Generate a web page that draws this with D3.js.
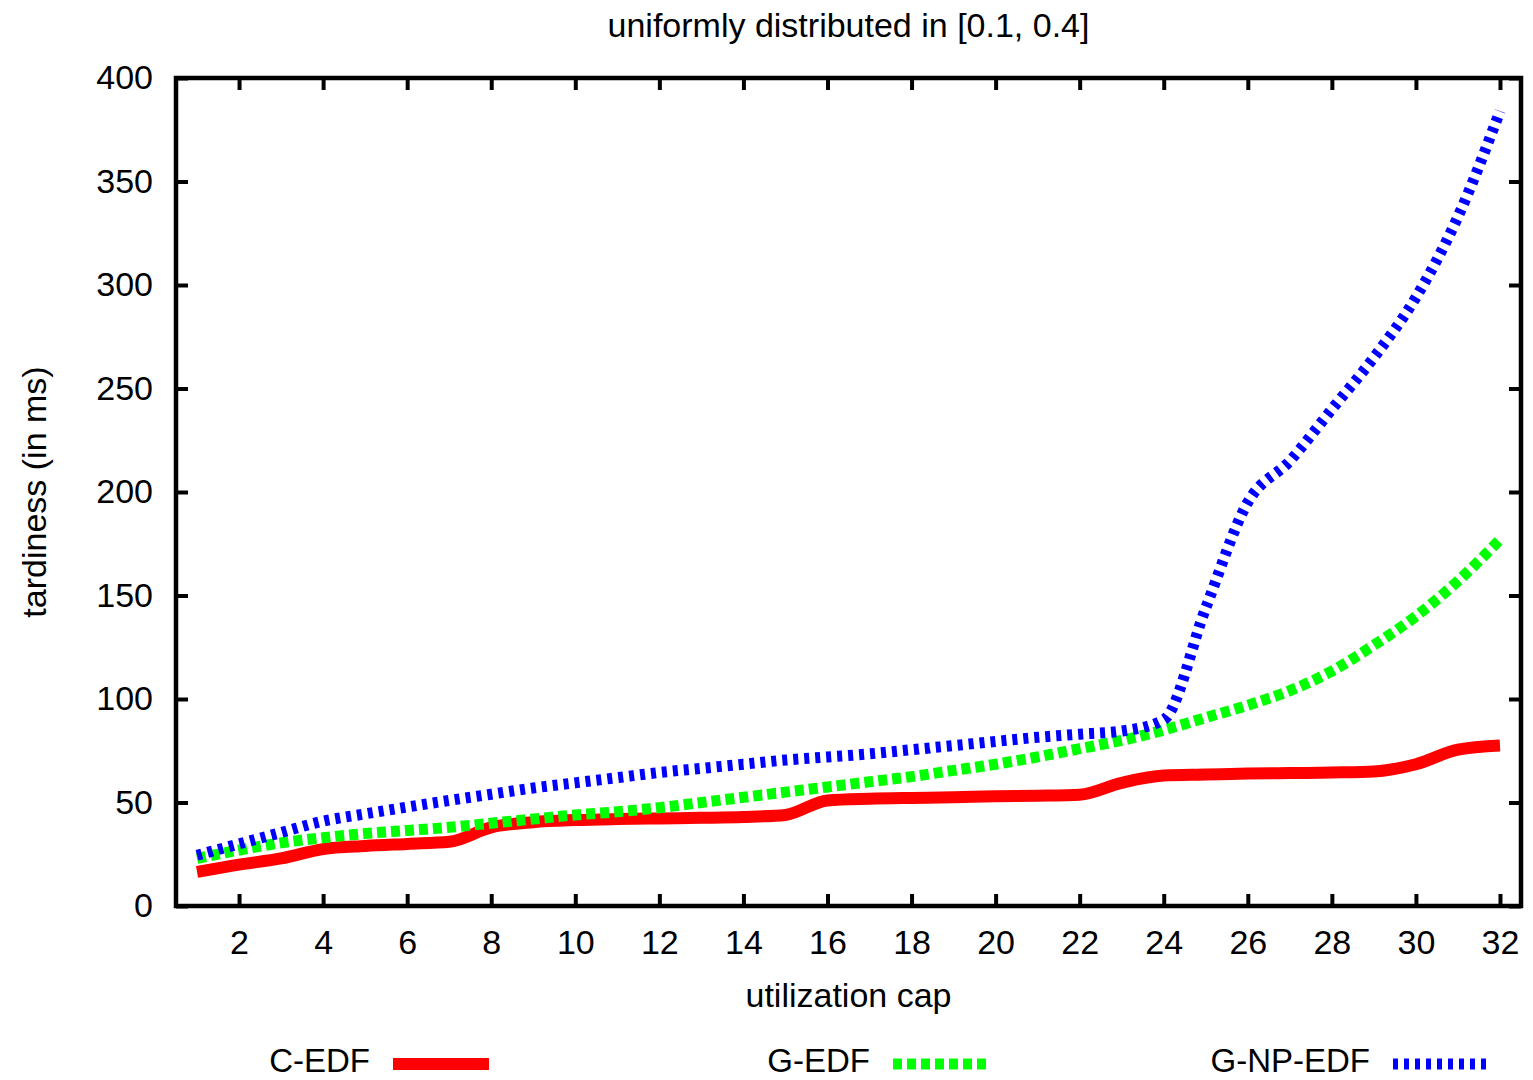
<!DOCTYPE html>
<html lang="en">
<head>
    <meta charset="UTF-8">
    <title>Tardiness vs utilization cap | D3</title>
    <style>
        body { margin: 0; background: #fff; }
        text { font-family: "Liberation Sans", Arial, sans-serif; fill: #000; }
    </style>
</head>
<body>
    <div id="chart"></div>

    <script src="https://cdn.jsdelivr.net/npm/d3@7"></script>
    <script>
        // Data.
        var utilCap = d3.range(1, 33);
        var cEdf = [16.5, 20, 23, 27.5, 29, 30, 31, 38, 40.5, 41.5, 42, 42.3, 42.6, 43, 44, 51,
                    51.8, 52.2, 52.5, 53, 53.3, 53.8, 59.5, 63, 63.5, 64, 64.2, 64.5, 65, 68.5, 75.5, 77.5];
        var gEdf = [23, 27, 30.5, 33, 35, 36.5, 38, 40, 42, 44, 45.5, 47.5, 50, 52.5, 55, 57.5,
                    60, 62.5, 65.5, 68.5, 72, 76, 80, 85, 91, 97, 104, 113.5, 126, 140, 157, 177];
        var gNpEdf = [24.5, 30, 35.5, 41, 44.5, 47.8, 51, 54, 57, 59.5, 62, 64.5, 66.5, 68.5, 70.5, 72,
                      73.5, 75.5, 77.5, 79.5, 81.5, 83, 84.5, 90, 144, 195, 215, 240, 265, 294, 333, 384];
        var xTicks = d3.range(2, 33, 2);
        var yTicks = d3.range(0, 401, 50);

        var series = [
            { name: "C-EDF", values: cEdf, color: "#ff0000", width: 12, dash: null },
            { name: "G-EDF", values: gEdf, color: "#00ff00", width: 11, dash: "9,5" },
            { name: "G-NP-EDF", values: gNpEdf, color: "#0000ff", width: 11, dash: "5,6" }
        ];

        var W = 1533, H = 1080;
        var plot = { left: 176, right: 1521, top: 78, bottom: 906 };

        var svg = d3.select("#chart").append("svg")
            .attr("width", W)
            .attr("height", H);

        var x = d3.scaleLinear().domain([0.5, 32.5]).range([plot.left, plot.right]);
        var y = d3.scaleLinear().domain([0, 400]).range([plot.bottom, plot.top]);

        // Axes, ticks pointing inwards on all four sides (gnuplot style).
        var fontSize = 34;
        svg.append("g")
            .attr("transform", "translate(0," + plot.bottom + ")")
            .call(d3.axisBottom(x).tickValues(xTicks).tickSizeInner(-12).tickSizeOuter(0).tickPadding(24))
            .call(function(g) { g.select(".domain").remove(); })
            .selectAll("text").style("font-size", fontSize + "px");

        svg.append("g")
            .attr("transform", "translate(" + plot.left + ",0)")
            .call(d3.axisLeft(y).tickValues(yTicks).tickSizeInner(-12).tickSizeOuter(0).tickPadding(23))
            .call(function(g) { g.select(".domain").remove(); })
            .selectAll("text").style("font-size", fontSize + "px");

        svg.append("g")
            .attr("transform", "translate(0," + plot.top + ")")
            .call(d3.axisTop(x).tickValues(xTicks).tickSizeInner(-12).tickSizeOuter(0).tickFormat(""))
            .call(function(g) { g.select(".domain").remove(); });

        svg.append("g")
            .attr("transform", "translate(" + plot.right + ",0)")
            .call(d3.axisRight(y).tickValues(yTicks).tickSizeInner(-12).tickSizeOuter(0).tickFormat(""))
            .call(function(g) { g.select(".domain").remove(); });

        svg.selectAll(".tick line").attr("stroke", "#000").attr("stroke-width", 4);

        // Lines.
        var line = d3.line()
            .x(function(d) { return x(d[0]); })
            .y(function(d) { return y(d[1]); })
            .curve(d3.curveMonotoneX);

        svg.append("g").selectAll("path")
            .data(series)
            .enter()
            .append("path")
            .attr("fill", "none")
            .attr("stroke", function(d) { return d.color; })
            .attr("stroke-width", function(d) { return d.width; })
            .attr("stroke-dasharray", function(d) { return d.dash; })
            .attr("d", function(d) {
                return line(utilCap.map(function(u, i) { return [u, d.values[i]]; }));
            });

        // Frame.
        svg.append("rect")
            .attr("x", plot.left)
            .attr("y", plot.top)
            .attr("width", plot.right - plot.left)
            .attr("height", plot.bottom - plot.top)
            .attr("fill", "none")
            .attr("stroke", "#000")
            .attr("stroke-width", 4.5);

        // Titles.
        svg.append("text")
            .attr("x", (plot.left + plot.right) / 2)
            .attr("y", 37)
            .attr("text-anchor", "middle")
            .style("font-size", fontSize + "px")
            .text("uniformly distributed in [0.1, 0.4]");

        svg.append("text")
            .attr("x", (plot.left + plot.right) / 2)
            .attr("y", 1007)
            .attr("text-anchor", "middle")
            .style("font-size", fontSize + "px")
            .text("utilization cap");

        svg.append("text")
            .attr("transform", "translate(46,492) rotate(-90)")
            .attr("text-anchor", "middle")
            .style("font-size", fontSize + "px")
            .text("tardiness (in ms)");

        // Legend along the bottom.
        var legendX = [370, 870, 1370];
        var legend = svg.append("g").selectAll("g")
            .data(series)
            .enter()
            .append("g")
            .attr("transform", function(d, i) { return "translate(" + legendX[i] + ",1064)"; });

        legend.append("text")
            .attr("text-anchor", "end")
            .attr("y", 8)
            .style("font-size", "33px")
            .text(function(d) { return d.name; });

        legend.append("line")
            .attr("x1", 23)
            .attr("x2", 119)
            .attr("stroke", function(d) { return d.color; })
            .attr("stroke-width", function(d) { return d.width; })
            .attr("stroke-dasharray", function(d) { return d.dash; });
    </script>
</body>
</html>
